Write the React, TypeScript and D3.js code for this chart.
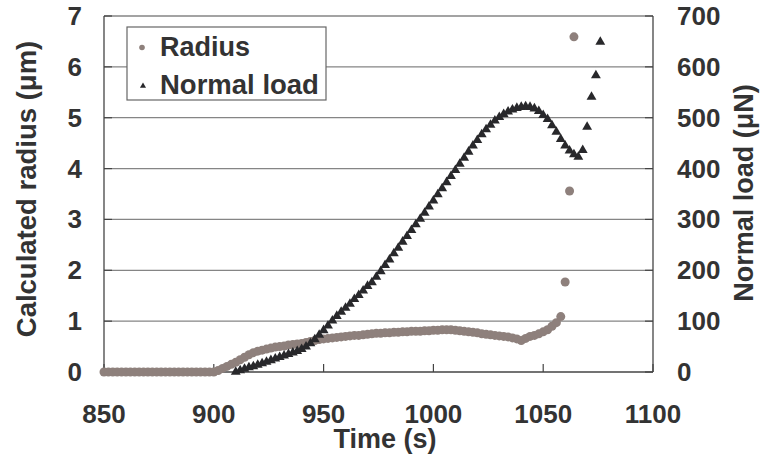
import React, { useEffect, useRef } from 'react';
import * as d3 from 'd3';

// Radius (µm), sampled every 2 s from 850 s
const radiusTimes: number[] = d3.range(850, 1065, 2);
const radiusValues: number[] = [
  0, 0, 0, 0, 0, 0, 0, 0, 0, 0, 0, 0, 0, 0, 0, 0, 0, 0, 0, 0, 0, 0, 0, 0, 0, 0,
  0.03, 0.07, 0.11, 0.15, 0.19, 0.24, 0.29, 0.34, 0.38, 0.41, 0.43, 0.45, 0.47, 0.49,
  0.50, 0.51, 0.53, 0.54, 0.55, 0.56, 0.58, 0.60, 0.62, 0.64, 0.65, 0.66, 0.67, 0.68,
  0.69, 0.70, 0.71, 0.72, 0.72, 0.73, 0.74, 0.75, 0.76, 0.76, 0.77, 0.77, 0.78, 0.78,
  0.79, 0.79, 0.80, 0.80, 0.80, 0.81, 0.81, 0.82, 0.82, 0.83, 0.83, 0.83, 0.82, 0.81,
  0.80, 0.79, 0.78, 0.77, 0.75, 0.74, 0.73, 0.72, 0.71, 0.70, 0.69, 0.67, 0.65, 0.62,
  0.66, 0.70, 0.72, 0.75, 0.79, 0.83, 0.90, 0.97, 1.09, 1.77, 3.56, 6.59,
];

// Normal load (µN), sampled every 2 s from 910 s
const loadTimes: number[] = d3.range(910, 1077, 2);
const loadValues: number[] = [
  0, 3, 6, 9, 11, 14, 17, 20, 23, 26, 29, 32, 35, 38, 41, 45, 50, 56, 64, 73,
  82, 91, 101, 110, 118, 126, 134, 143, 151, 160, 169, 176, 187, 198, 210, 221, 233, 244, 256, 267,
  279, 290, 301, 313, 325, 337, 349, 361, 373, 385, 397, 409, 421, 433, 445, 456, 467, 477, 486, 494,
  501, 507, 512, 516, 519, 521, 522, 521, 518, 513, 505, 497, 485, 472, 458, 445, 435, 428, 423, 436,
  482, 541, 583, 649,
];

const xTicks = [850, 900, 950, 1000, 1050, 1100];
const leftTicks = [0, 1, 2, 3, 4, 5, 6, 7];
const rightTicks = [0, 100, 200, 300, 400, 500, 600, 700];

const W = 762;
const H = 456;
const FONT = 'Arial, "Liberation Sans", sans-serif';
const RADIUS_COLOR = '#8e807c';
const LOAD_COLOR = '#28282b';
const TEXT_COLOR = '#333333';

const App: React.FC = () => {
  const svgRef = useRef<SVGSVGElement>(null);

  useEffect(() => {
    if (!svgRef.current) return;
    const svg = d3.select(svgRef.current);
    svg.selectAll('*').remove();

    const left = 104, right = 653, top = 16, bottom = 372;

    const x = d3.scaleLinear().domain([850, 1100]).range([left, right]);
    const yL = d3.scaleLinear().domain([0, 7]).range([bottom, top]);
    const yR = d3.scaleLinear().domain([0, 700]).range([bottom, top]);

    svg.append('rect').attr('width', W).attr('height', H).attr('fill', '#fff');

    // gridlines
    svg.append('g')
      .selectAll('line')
      .data(leftTicks.slice(1))
      .enter()
      .append('line')
      .attr('x1', left)
      .attr('x2', right)
      .attr('y1', d => yL(d))
      .attr('y2', d => yL(d))
      .attr('stroke', '#858585')
      .attr('stroke-width', 1.3);

    // axes lines
    const axisColor = '#444';
    svg.append('line').attr('x1', left).attr('x2', right).attr('y1', bottom).attr('y2', bottom)
      .attr('stroke', axisColor).attr('stroke-width', 1.3);
    svg.append('line').attr('x1', left).attr('x2', left).attr('y1', top).attr('y2', bottom)
      .attr('stroke', axisColor).attr('stroke-width', 1.3);
    svg.append('line').attr('x1', right).attr('x2', right).attr('y1', top).attr('y2', bottom)
      .attr('stroke', axisColor).attr('stroke-width', 1.3);

    // inner ticks
    svg.append('g').selectAll('line').data(xTicks).enter().append('line')
      .attr('x1', d => x(d)).attr('x2', d => x(d))
      .attr('y1', bottom).attr('y2', bottom - 8)
      .attr('stroke', axisColor).attr('stroke-width', 1.2);
    svg.append('g').selectAll('line').data(leftTicks).enter().append('line')
      .attr('x1', left).attr('x2', left + 8)
      .attr('y1', d => yL(d)).attr('y2', d => yL(d))
      .attr('stroke', axisColor).attr('stroke-width', 1.2);
    svg.append('g').selectAll('line').data(rightTicks).enter().append('line')
      .attr('x1', right - 8).attr('x2', right)
      .attr('y1', d => yR(d)).attr('y2', d => yR(d))
      .attr('stroke', axisColor).attr('stroke-width', 1.2);

    const label = (sel: d3.Selection<SVGTextElement, any, any, any>, size = 26) =>
      sel.attr('font-family', FONT).attr('font-weight', 'bold')
        .attr('font-size', size).attr('fill', TEXT_COLOR);

    // tick labels
    label(svg.append('g').selectAll('text').data(xTicks).enter().append('text')
      .attr('x', d => x(d)).attr('y', 423).attr('text-anchor', 'middle')
      .text(d => d) as any);
    label(svg.append('g').selectAll('text').data(leftTicks).enter().append('text')
      .attr('x', 82).attr('y', d => yL(d) + 9).attr('text-anchor', 'end')
      .text(d => d) as any);
    label(svg.append('g').selectAll('text').data(rightTicks).enter().append('text')
      .attr('x', 677).attr('y', d => yR(d) + 9).attr('text-anchor', 'start')
      .text(d => d) as any);

    // axis titles
    label(svg.append('text').attr('x', 385).attr('y', 448).attr('text-anchor', 'middle')
      .text('Time (s)'), 27);
    label(svg.append('text').attr('transform', 'translate(36,189) rotate(-90)')
      .attr('text-anchor', 'middle').text('Calculated radius (μm)'), 27.5);
    label(svg.append('text').attr('transform', 'translate(753,193) rotate(-90)')
      .attr('text-anchor', 'middle').text('Normal load (μN)'), 27);

    // radius series
    const radiusData = radiusTimes.map((t, i) => ({ t, v: radiusValues[i] }));
    svg.append('g').selectAll('circle').data(radiusData).enter().append('circle')
      .attr('cx', d => x(d.t)).attr('cy', d => yL(d.v)).attr('r', 4.5)
      .attr('fill', RADIUS_COLOR);

    // load series
    const loadData = loadTimes.map((t, i) => ({ t, v: loadValues[i] }));
    const tri = d3.symbol().type(d3.symbolTriangle).size(42);
    svg.append('g').selectAll('path').data(loadData).enter().append('path')
      .attr('d', tri as any)
      .attr('transform', d => `translate(${x(d.t)},${yR(d.v)})`)
      .attr('fill', LOAD_COLOR);

    // legend
    const lg = svg.append('g');
    lg.append('rect').attr('x', 127).attr('y', 27).attr('width', 199).attr('height', 73)
      .attr('fill', '#fff').attr('stroke', '#666').attr('stroke-width', 1.2);
    lg.append('circle').attr('cx', 142).attr('cy', 47.5).attr('r', 2.8).attr('fill', RADIUS_COLOR);
    lg.append('path').attr('d', d3.symbol().type(d3.symbolTriangle).size(16)() as string)
      .attr('transform', 'translate(143,86)').attr('fill', LOAD_COLOR);
    label(lg.append('text').attr('x', 160).attr('y', 56).text('Radius'), 27);
    label(lg.append('text').attr('x', 160).attr('y', 94).text('Normal load'), 27.5);
  }, []);

  return (
    <div style={{ position: 'absolute', left: 0, top: 0 }}>
      <svg ref={svgRef} width={W} height={H} style={{ display: 'block' }} />
    </div>
  );
};

export default App;
